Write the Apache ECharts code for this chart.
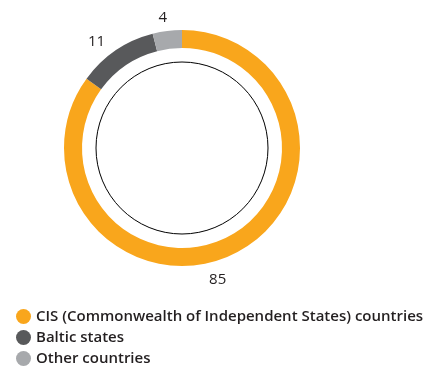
<!DOCTYPE html>
<html>
<head>
<meta charset="utf-8">
<script src="https://cdn.jsdelivr.net/npm/echarts@6/dist/echarts.min.js"></script>
<style>
  html, body { margin: 0; padding: 0; background: #fff; }
  #chart { width: 431px; height: 367px; }
</style>
</head>
<body>
<div id="chart"></div>
<script>
// share of exports by region, %
const categories = ['CIS (Commonwealth of Independent States) countries', 'Baltic states', 'Other countries'];
const values = [85, 11, 4];
const colors = ['#F9A61C', '#58595B', '#A7A9AC'];

const chart = echarts.init(document.getElementById('chart'));

const option = {
  animation: false,
  legend: {
    orient: 'vertical',
    left: 11,
    top: 304,
    height: 70,
    icon: 'circle',
    itemWidth: 15,
    itemHeight: 15,
    itemGap: 6,
    data: categories,
    textStyle: {
      fontFamily: 'Open Sans',
      fontWeight: 600,
      fontSize: 15,
      lineHeight: 15,
      color: '#231F20'
    }
  },
  series: [
    {
      type: 'pie',
      center: [182, 148],
      radius: [100, 118],
      startAngle: 90,
      clockwise: true,
      silent: true,
      data: categories.map((name, i) => ({
        name,
        value: values[i],
        itemStyle: { color: colors[i] },
        // the big slice's label sits nearer the bottom in the original
        label: i === 0 ? { offset: [-36, 18] } : (i === 2 ? { offset: [6, -3] } : {})
      })),
      label: {
        show: true,
        position: 'outside',
        formatter: '{c}',
        fontFamily: 'Open Sans',
        fontWeight: 500,
        fontSize: 15,
        color: '#231F20'
      },
      labelLine: { show: false, length: 10, length2: 0 }
    },
    {
      // thin inner circle
      type: 'pie',
      center: [182, 148],
      radius: [0, 86],
      silent: true,
      label: { show: false },
      labelLine: { show: false },
      itemStyle: { color: 'rgba(0,0,0,0)', borderColor: '#000', borderWidth: 1 },
      data: [{ name: 'inner', value: 1 }]
    }
  ]
};

chart.setOption(option);
</script>
</body>
</html>
